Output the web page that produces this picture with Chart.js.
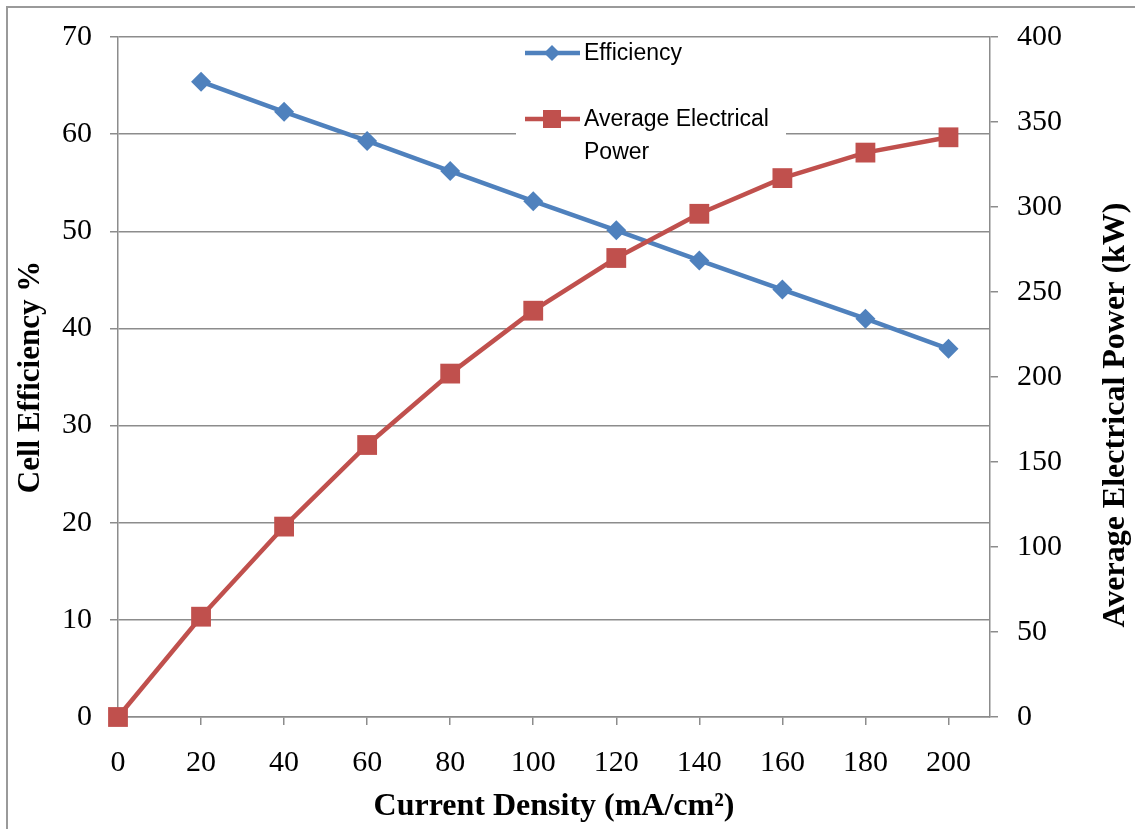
<!DOCTYPE html>
<html>
<head>
<meta charset="utf-8">
<title>Cell efficiency and electrical power</title>
<script src="https://cdn.jsdelivr.net/npm/chart.js@4.4.1/dist/chart.umd.min.js"></script>
<style>
  html, body { margin: 0; padding: 0; background: #fff; overflow: hidden; }
  #wrap { position: relative; width: 1135px; height: 829px; }
</style>
</head>
<body>
<div id="wrap"><canvas id="myChart"></canvas></div>
<script>
// current density steps (mA/cm2)
const currentDensity = [0, 20, 40, 60, 80, 100, 120, 140, 160, 180, 200];
// cell efficiency (%), no value at zero current
const efficiency = [null, 65.4, 62.3, 59.3, 56.2, 53.1, 50.1, 47.0, 44.0, 41.0, 37.9];
// average electrical power (kW)
const power = [0, 59, 112, 160, 202, 239, 270, 296, 317, 332, 341];

const BLUE = "#4F81BD";
const RED = "#C0504D";
const GRID = "#8c8c8c";
const SERIF = "'Liberation Serif', 'Times New Roman', serif";
const SANS = "'Liberation Sans', Arial, sans-serif";

const toPoints = (vals) =>
  currentDensity
    .map((x, i) => ({ x: x, y: vals[i] }))
    .filter((p) => p.y !== null);

// frame, axis titles and the boxed legend
const decorations = {
  id: "decorations",
  beforeDraw(chart) {
    const c = chart.ctx;
    c.save();
    c.fillStyle = "#fff";
    c.fillRect(0, 0, chart.width, chart.height);
    c.strokeStyle = "#9a9a9a";
    c.lineWidth = 2;
    c.beginPath();
    c.moveTo(7, chart.height);
    c.lineTo(7, 7);
    c.lineTo(chart.width, 7);
    c.stroke();
    c.restore();
  },
  afterDraw(chart) {
    const c = chart.ctx;
    const area = chart.chartArea;
    c.save();
    c.fillStyle = "#000";
    c.textAlign = "center";
    c.textBaseline = "middle";
    c.font = "bold 32px " + SERIF;
    c.fillText("Current Density (mA/cm²)", (area.left + area.right) / 2, 807);

    c.save();
    c.translate(31, (area.top + area.bottom) / 2);
    c.rotate(-Math.PI / 2);
    c.font = "bold 31px " + SERIF;
    c.fillText("Cell Efficiency %", 0, 0);
    c.restore();

    c.save();
    c.translate(1116, 415);
    c.rotate(-Math.PI / 2);
    c.font = "bold 32px " + SERIF;
    c.fillText("Average Electrical Power (kW)", 0, 0);
    c.restore();

    // legend
    c.fillStyle = "#fff";
    c.fillRect(516, 40, 270, 125);

    c.lineWidth = 4.5;
    c.strokeStyle = BLUE;
    c.beginPath();
    c.moveTo(525, 53);
    c.lineTo(580, 53);
    c.stroke();
    c.fillStyle = BLUE;
    c.beginPath();
    c.moveTo(552, 45);
    c.lineTo(560, 53);
    c.lineTo(552, 61);
    c.lineTo(544, 53);
    c.closePath();
    c.fill();

    c.strokeStyle = RED;
    c.beginPath();
    c.moveTo(525, 119);
    c.lineTo(580, 119);
    c.stroke();
    c.fillStyle = RED;
    c.fillRect(543, 110, 18, 18);

    c.fillStyle = "#000";
    c.font = "23px " + SANS;
    c.textAlign = "left";
    c.fillText("Efficiency", 584, 54);
    c.fillText("Average Electrical", 584, 120);
    c.fillText("Power", 584, 153);
    c.restore();
  },
};

const ctx = document.getElementById("myChart");

new Chart(ctx, {
  type: "line",
  data: {
    datasets: [
      {
        label: "Efficiency",
        data: toPoints(efficiency),
        yAxisID: "y",
        borderColor: BLUE,
        backgroundColor: BLUE,
        borderWidth: 4.5,
        pointStyle: "rectRot",
        pointRadius: 10,
        pointBorderWidth: 0,
        order: 1,
        clip: false,
      },
      {
        label: "Average Electrical Power",
        data: toPoints(power),
        yAxisID: "y1",
        borderColor: RED,
        backgroundColor: RED,
        borderWidth: 4.5,
        pointStyle: "rect",
        pointRadius: 14,
        pointBorderWidth: 0,
        order: 0,
        clip: false,
      },
    ],
  },
  options: {
    responsive: true,
    maintainAspectRatio: false,
    animation: false,
    layout: { padding: { top: 37, left: 0, right: 0, bottom: 0 } },
    plugins: {
      legend: { display: false },
      tooltip: { enabled: false },
    },
    scales: {
      x: {
        type: "linear",
        min: 0,
        max: 210,
        afterFit(scale) {
          scale.height = 112;
        },
        afterBuildTicks(scale) {
          scale.ticks = currentDensity.map((v) => ({ value: v }));
        },
        ticks: {
          autoSkip: false,
          maxRotation: 0,
          padding: 20,
          color: "#000",
          font: { family: SERIF, size: 30 },
        },
        grid: {
          drawOnChartArea: false,
          tickLength: 8,
          color: GRID,
          lineWidth: 1.5,
        },
        border: { color: GRID, width: 1.5 },
      },
      y: {
        position: "left",
        min: 0,
        max: 70,
        afterFit(scale) {
          scale.width = 118;
        },
        ticks: {
          stepSize: 10,
          padding: 18,
          color: "#000",
          font: { family: SERIF, size: 30 },
        },
        grid: { tickLength: 8, color: GRID, lineWidth: 1.5 },
        border: { color: GRID, width: 1.5 },
      },
      y1: {
        position: "right",
        min: 0,
        max: 400,
        afterFit(scale) {
          scale.width = 145;
        },
        ticks: {
          stepSize: 50,
          padding: 19,
          color: "#000",
          font: { family: SERIF, size: 30 },
        },
        grid: {
          drawOnChartArea: false,
          tickLength: 8,
          color: GRID,
          lineWidth: 1.5,
        },
        border: { color: GRID, width: 1.5 },
      },
    },
  },
  plugins: [decorations],
});
</script>
</body>
</html>
